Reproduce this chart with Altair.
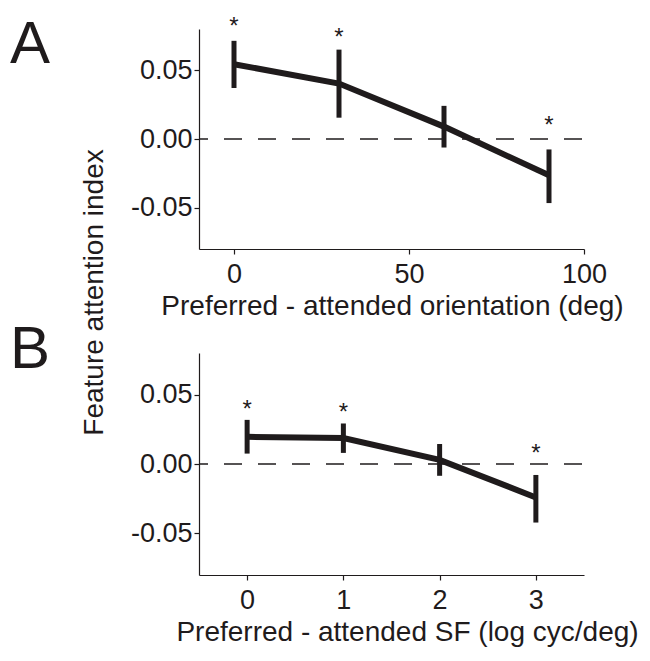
import altair as alt
import pandas as pd

FONT = "Liberation Sans"
INK = "#1f1b1c"

# ---- Panel A: orientation ----
a_x = [0, 30, 60, 90]
a_mean = [0.0544, 0.0403, 0.0090, -0.0264]
a_hi = [0.0714, 0.0650, 0.0241, -0.0076]
a_lo = [0.0371, 0.0155, -0.0062, -0.0466]
a_star_x = [0, 30, 90]
a_star_y = [0.0869, 0.0785, 0.0146]
a_xticks = [0, 50, 100]
a_xdomain = [-10, 100]
a_title = "Preferred - attended orientation (deg)"

# ---- Panel B: spatial frequency ----
b_x = [0, 1, 2, 3]
b_mean = [0.0196, 0.0187, 0.0030, -0.0241]
b_hi = [0.0318, 0.0292, 0.0144, -0.0079]
b_lo = [0.0075, 0.0080, -0.0085, -0.0422]
b_star_x = [0, 1, 3]
b_star_y = [0.0442, 0.0417, 0.0122]
b_xticks = [0, 1, 2, 3]
b_xdomain = [-0.5, 3.5]
b_title = "Preferred - attended SF (log cyc/deg)"

y_ticks = [-0.05, 0.0, 0.05]
y_domain = [-0.08, 0.08]
y_title = "Feature attention index"

W = 385


def panel(xs_, mean, hi, lo, sx, sy, xdomain, xticks, xtitle, letter,
          height, letter_y, xtitle_x, with_ytitle):
    df = pd.DataFrame({"x": xs_, "m": mean, "hi": hi, "lo": lo})
    stars = pd.DataFrame({"x": sx, "y": sy})
    xs = alt.Scale(domain=xdomain, nice=False, zero=False)
    ys = alt.Scale(domain=y_domain, nice=False, zero=False)

    xaxis = alt.Axis(values=xticks, title=xtitle, grid=False, tickSize=5,
                     labelFontSize=27, labelFont=FONT, labelColor=INK,
                     labelPadding=7, labelFlush=False, labelOverlap=False,
                     titleFontSize=28, titleFont=FONT, titleFontWeight="normal",
                     titleColor=INK, titleBaseline="alphabetic",
                     titleX=xtitle_x, titleY=65, format="d")
    yaxis_kw = dict(values=y_ticks, grid=False, tickSize=5,
                    labelFontSize=27, labelFont=FONT, labelColor=INK,
                    labelPadding=2, labelFlush=False, labelOverlap=False,
                    labelExpr="datum.value < 0 ? '-' + format(abs(datum.value), '.2f') : format(datum.value, '.2f')")
    if with_ytitle:
        yaxis = alt.Axis(title=y_title, titleFontSize=28, titleFont=FONT,
                         titleFontWeight="normal", titleColor=INK,
                         titleAngle=270, titleBaseline="alphabetic",
                         titleAlign="center", titleX=-97, titleY=263,
                         **yaxis_kw)
    else:
        yaxis = alt.Axis(title=None, **yaxis_kw)

    base = alt.Chart(df)
    axes_layer = base.mark_point(opacity=0).encode(
        x=alt.X("x:Q", scale=xs, axis=xaxis),
        y=alt.Y("m:Q", scale=ys, axis=yaxis),
    )
    zero = alt.Chart(pd.DataFrame({"z": [0.0]})).mark_rule(
        color=INK, strokeWidth=1.3, strokeDash=[18, 16], strokeDashOffset=9
    ).encode(y=alt.Y("z:Q", scale=ys), x=alt.value(0), x2=alt.value(W))
    bars = base.mark_rule(color=INK, strokeWidth=5).encode(
        x=alt.X("x:Q", scale=xs), y=alt.Y("lo:Q", scale=ys), y2="hi:Q")
    line = base.mark_line(color=INK, strokeWidth=6, strokeCap="butt").encode(
        x=alt.X("x:Q", scale=xs), y=alt.Y("m:Q", scale=ys))
    star = alt.Chart(stars).mark_text(
        text="*", fontSize=24, font=FONT, color=INK, baseline="alphabetic", dy=14
    ).encode(x=alt.X("x:Q", scale=xs), y=alt.Y("y:Q", scale=ys))
    lab = alt.Chart(pd.DataFrame({"t": [letter]})).mark_text(
        fontSize=60, font=FONT, color=INK, align="left", baseline="alphabetic"
    ).encode(text="t:N", x=alt.value(-189), y=alt.value(letter_y))

    return alt.layer(axes_layer, zero, bars, line, star, lab).properties(
        width=W, height=height)


pa = panel(a_x, a_mean, a_hi, a_lo, a_star_x, a_star_y, a_xdomain, a_xticks,
           a_title, "A", 220, 34, 193, True)
pb = panel(b_x, b_mean, b_hi, b_lo, b_star_x, b_star_y, b_xdomain, b_xticks,
           b_title, "B", 222, 15, 208, False)

chart = alt.vconcat(pa, pb, spacing=104, bounds="flush").properties(
    padding={"left": 2, "top": 6, "right": 0, "bottom": 4}
).configure_view(stroke=None).configure_axis(
    domainColor=INK, tickColor=INK, domainWidth=1.2, tickWidth=1.2
)

chart.save("out.html", embed_options={"renderer": "svg", "actions": False})
